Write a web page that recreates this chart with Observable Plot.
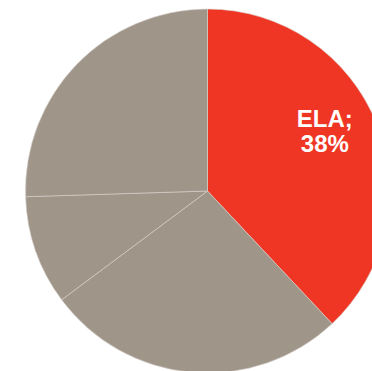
<!DOCTYPE html>
<html>
<head>
<meta charset="utf-8">
<script src="https://cdn.jsdelivr.net/npm/d3@7"></script>
<script src="https://cdn.jsdelivr.net/npm/@observablehq/plot@0.6"></script>
<style>
html,body{margin:0;padding:0;background:#fff;overflow:hidden;}
</style>
</head>
<body>
<div id="chart"></div>
<script>
const categories = ["ELA", "B", "C", "D"];
const values = [38, 26.8, 9.7, 25.5];
const labels = ["ELA;\n38%", "", "", ""];
const colors = ["#EF3524", "#A09589", "#A09589", "#A09589"];

const W = 372, H = 371;
const cx = 207.5, cy = 191, R = 182;

const data = categories.map((c, i) => ({category: c, value: values[i], label: labels[i], color: colors[i]}));
const arcs = d3.pie().sort(null).value(d => d.value)(data);
const labelArc = d3.arc().innerRadius(0.72).outerRadius(0.72);
const labelData = arcs.filter(a => a.data.label).map(a => {
  const [px, py] = labelArc.centroid(a);
  return {x: px, y: -py, label: a.data.label};
});

function pieMark(index, scales) {
  const x = scales.x, y = scales.y;
  const ox = x(0), oy = y(0), r = x(1) - x(0);
  const g = d3.create("svg:g").attr("transform", `translate(${ox},${oy})`);
  const arc = d3.arc().innerRadius(0).outerRadius(r);
  g.selectAll("path").data(arcs).join("path")
    .attr("d", arc)
    .attr("fill", d => d.data.color)
    .attr("stroke", "#d8d2cc")
    .attr("stroke-width", 0.6);
  return g.node();
}

const chart = Plot.plot({
  width: W,
  height: H,
  margin: 0,
  x: {domain: [-cx / R, (W - cx) / R], range: [0, W], axis: null},
  y: {domain: [-(H - cy) / R, cy / R], range: [H, 0], axis: null},
  marks: [
    pieMark,
    Plot.text(labelData, {
      x: "x", y: "y", text: "label",
      fill: "white", fontSize: 24, fontWeight: "bold",
      fontFamily: "Liberation Sans, Arial, sans-serif",
      lineHeight: 1.04, dx: -5, dy: -12, textAnchor: "middle"
    })
  ]
});
document.getElementById("chart").appendChild(chart);
</script>
</body>
</html>
